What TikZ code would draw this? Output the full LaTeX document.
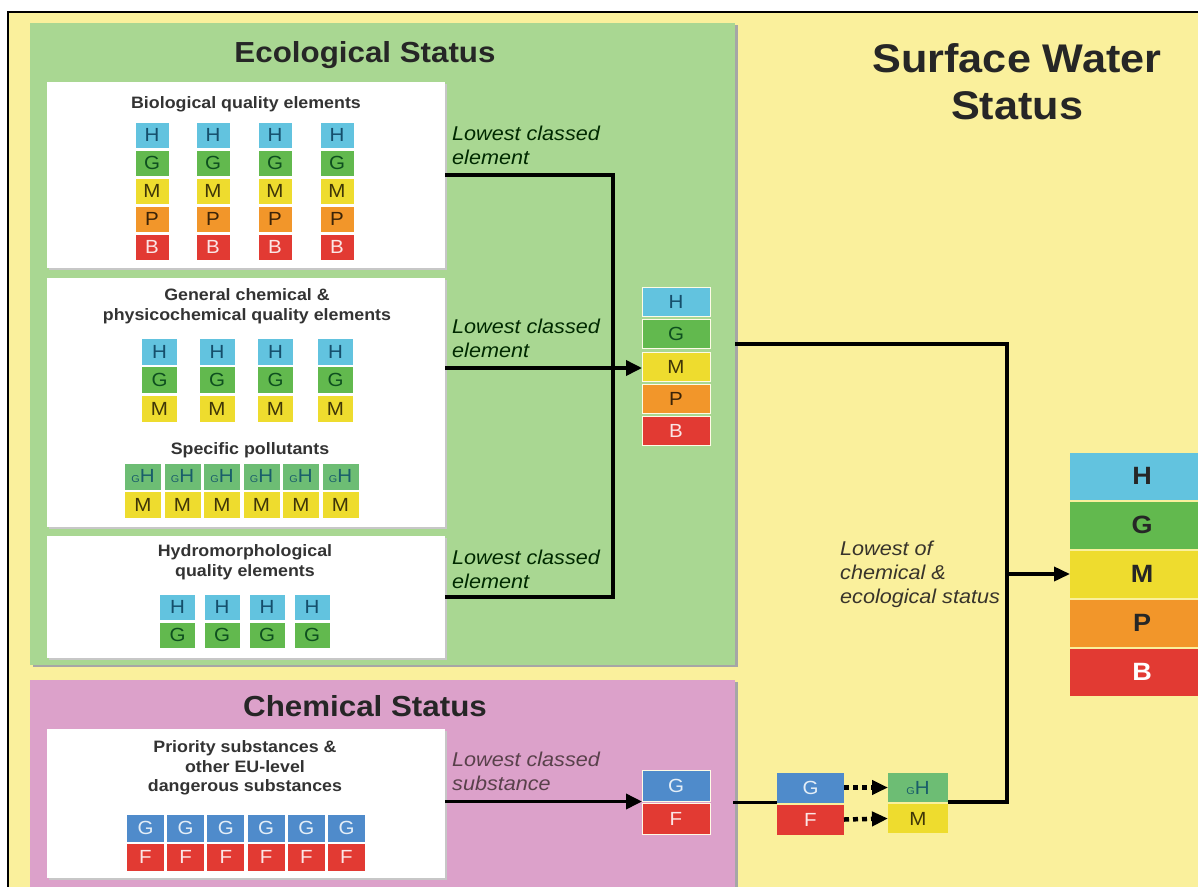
\documentclass[tikz,border=0pt]{standalone}
\usepackage{fontspec}
\setmainfont{Liberation Sans}[FakeStretch=1.08]
\usetikzlibrary{positioning,arrows.meta}

\definecolor{bgyellow}{HTML}{FAF09C}
\definecolor{ecogreen}{HTML}{A9D792}
\definecolor{chempink}{HTML}{DCA1CA}
\definecolor{hblue}{HTML}{62C3DF}
\definecolor{ggreen}{HTML}{62B94E}
\definecolor{myellow}{HTML}{EEDC2E}
\definecolor{porange}{HTML}{F2962A}
\definecolor{bred}{HTML}{E23A33}
\definecolor{gsteel}{HTML}{4F8BCB}
\definecolor{ghgreen}{HTML}{6DBD74}
\definecolor{htext}{HTML}{154E6B}
\definecolor{gtext}{HTML}{0E4F1F}
\definecolor{mtext}{HTML}{3F3608}
\definecolor{ptext}{HTML}{3A2308}
\definecolor{btext}{HTML}{FBE6E6}
\definecolor{ghtext}{HTML}{1A5E6A}

\tikzset{node distance=3pt,
  panel/.style={inner sep=0pt, outer sep=0pt, preaction={fill=black!35, transform canvas={shift={(3pt,-2pt)}}}},
  wbox/.style={fill=white, inner sep=0pt, outer sep=0pt, preaction={fill=black!22, transform canvas={shift={(1.5pt,-2pt)}}}},
  head/.style={font=\bfseries\fontsize{29}{34}\selectfont, text=black!85},
  subhead/.style={font=\bfseries\fontsize{16.5}{19.5}\selectfont, text=black!80, align=center},
  lowlabel/.style={font=\itshape\fontsize{20}{24}\selectfont, align=left, anchor=west, inner sep=0pt},
  cell/.style={inner sep=0pt, outer sep=0pt, font=\fontsize{19}{19}\selectfont},
  hcell/.style={cell, fill=hblue, text=htext},
  gcell/.style={cell, fill=ggreen, text=gtext},
  mcell/.style={cell, fill=myellow, text=mtext},
  pcell/.style={cell, fill=porange, text=ptext},
  bcell/.style={cell, fill=bred, text=btext},
  ghcell/.style={cell, fill=ghgreen, text=ghtext},
  goodcell/.style={cell, fill=gsteel, text=white!85!gsteel},
  failcell/.style={cell, fill=bred, text=btext},
  framed/.style={draw=white!75!bgyellow, line width=1pt},
  conn/.style={line width=3.6pt},
  arrowhd/.style={-{Triangle[length=16pt,width=15pt]}},
  dotconn/.style={line width=4.5pt, dash pattern=on 5pt off 4pt, -{Triangle[length=16pt,width=14pt]}}
}

\newcommand{\smallg}{{\fontsize{10}{10}\selectfont G}}

\begin{document}
\begin{tikzpicture}[x=1pt,y=-1pt]
\useasboundingbox (0,0) rectangle (1198,886);
\fill[white] (0,0) rectangle (1198,886);
\draw[line width=2.5pt, fill=bgyellow] (8,12) rectangle (1230,910);

\node[panel, fill=ecogreen, minimum width=705pt, minimum height=642pt] (eco) at (382.5,344) {};
\node[panel, fill=chempink, minimum width=705pt, minimum height=230pt] (chem) at (382.5,795) {};

\node[head] (ecotitle) at (365,55) {Ecological Status};
\node[head] (chemtitle) at (365,706) {Chemical Status};
\node[font=\bfseries\fontsize{40}{47}\selectfont, text=black!85, align=center] (swtitle) at (1017,82) {Surface Water\\Status};

\node[wbox, minimum width=398pt, minimum height=186pt] (bio) at (246,175) {};
\node[wbox, minimum width=398pt, minimum height=249pt] (gen) at (246,402.5) {};
\node[wbox, minimum width=398pt, minimum height=122pt] (hydro) at (246,597) {};
\node[wbox, minimum width=398pt, minimum height=149pt] (prio) at (246,803.5) {};

\node[subhead] (biotitle) at (246,104) {Biological quality elements};
\node[subhead] (gentitle) at (247,306) {General chemical \&\\physicochemical quality elements};
\node[subhead] (sptitle) at (250,450) {Specific pollutants};
\node[subhead] (hydtitle) at (245,562) {Hydromorphological\\quality elements};
\node[subhead] (priotitle) at (245,768) {Priority substances \&\\other EU-level\\dangerous substances};

\begin{scope}[cell/.append style={minimum width=33pt, minimum height=25pt}]
\foreach \c [count=\i] in {152,213,275,337} {
  \node[hcell] (bio\i-H) at (\c,135) {H};
  \node[gcell, below=of bio\i-H] (bio\i-G) {G};
  \node[mcell, below=of bio\i-G] (bio\i-M) {M};
  \node[pcell, below=of bio\i-M] (bio\i-P) {P};
  \node[bcell, below=of bio\i-P] (bio\i-B) {B};
}
\end{scope}

\begin{scope}[cell/.append style={minimum width=35pt, minimum height=26pt}, node distance=2.5pt]
\foreach \c [count=\i] in {159.5,217,275.5,335.5} {
  \node[hcell] (gen\i-H) at (\c,351.5) {H};
  \node[gcell, below=of gen\i-H] (gen\i-G) {G};
  \node[mcell, below=of gen\i-G] (gen\i-M) {M};
}
\end{scope}

\begin{scope}[cell/.append style={minimum width=36pt, minimum height=26pt}, node distance=2pt]
\foreach \c [count=\i] in {143,182.5,222,261.5,301,340.5} {
  \node[ghcell] (sp\i-H) at (\c,476.5) {\smallg H};
  \node[mcell, below=of sp\i-H] (sp\i-M) {M};
}
\end{scope}

\begin{scope}[cell/.append style={minimum width=35pt, minimum height=25pt}]
\foreach \c [count=\i] in {177.5,222,267,312} {
  \node[hcell] (hyd\i-H) at (\c,607) {H};
  \node[gcell, below=of hyd\i-H] (hyd\i-G) {G};
}
\end{scope}

\begin{scope}[cell/.append style={minimum width=37pt, minimum height=27pt}, node distance=2pt]
\foreach \c [count=\i] in {145.5,185.7,225.9,266.1,306.3,346.5} {
  \node[goodcell] (ps\i-G) at (\c,828) {G};
  \node[failcell, below=of ps\i-G] (ps\i-F) {F};
}
\end{scope}

\begin{scope}[cell/.append style={minimum width=68pt, minimum height=29pt, framed}, node distance=3.25pt]
\node[hcell] (midH) at (676,302) {H};
\node[gcell, below=of midH] (midG) {G};
\node[mcell, below=of midG] (midM) {M};
\node[pcell, below=of midM] (midP) {P};
\node[bcell, below=of midP] (midB) {B};
\end{scope}

\begin{scope}[cell/.append style={minimum width=144pt, minimum height=47pt, font=\bfseries\fontsize{25}{25}\selectfont}, node distance=2pt]
\node[hcell, text=black!85] (swH) at (1142,476) {H};
\node[gcell, text=black!85, below=of swH] (swG) {G};
\node[mcell, text=black!85, below=of swG] (swM) {M};
\node[pcell, text=black!85, below=of swM] (swP) {P};
\node[bcell, text=white, below=of swP] (swB) {B};
\end{scope}

\begin{scope}[node distance=2pt]
\node[goodcell, framed, minimum width=68pt, minimum height=31pt] (cG1) at (676,786) {G};
\node[failcell, framed, minimum width=68pt, minimum height=31pt, below=of cG1] (cF1) {F};
\node[goodcell, minimum width=67pt, minimum height=30pt] (cG2) at (810.5,787.5) {G};
\node[failcell, minimum width=67pt, minimum height=30pt, below=of cG2] (cF2) {F};
\node[ghcell, minimum width=60pt, minimum height=29pt] (fgH) at (918,787.5) {\smallg H};
\node[mcell, minimum width=60pt, minimum height=29pt, below=of fgH] (fM) {M};
\end{scope}

\node[lowlabel, text=black!60!green!40!black] (lowbio) at (452,145) {Lowest classed\\element};
\node[lowlabel, text=black!60!green!40!black] (lowgen) at (452,338) {Lowest classed\\element};
\node[lowlabel, text=black!60!green!40!black] (lowhyd) at (452,569) {Lowest classed\\element};
\node[lowlabel, text=black!75!magenta] (lowsub) at (452,771.5) {Lowest classed\\substance};
\node[lowlabel, text=black!80!olive] (lowall) at (840,574) {Lowest of\\chemical \&\\ecological status};

\coordinate (ecojn) at (613,368);
\coordinate (ecoout) at (735,344);
\coordinate (chemout) at (733,803);
\coordinate (swx) at (1007,574);

\draw[conn] (bio.east) -| (ecojn);
\draw[conn] (hydro.east) -| (ecojn);
\draw[conn, arrowhd] (gen.east |- ecojn) -- (midM.west |- ecojn);
\draw[conn] (ecoout) -| (fgH.south east -| swx) -- (fgH.south east);
\draw[conn, -{Triangle[length=16pt,width=14pt]}] (swx) -- (swM.west);
\draw[conn, arrowhd] (prio.east |- cG1.south west) -- (cG1.south west);
\draw[conn] (chemout |- cG2.south west) -- (cG2.south west);
\draw[dotconn] (cG2.east) -- (fgH.west);
\draw[dotconn] (cF2.east) -- (fM.west);
\end{tikzpicture}
\end{document}
